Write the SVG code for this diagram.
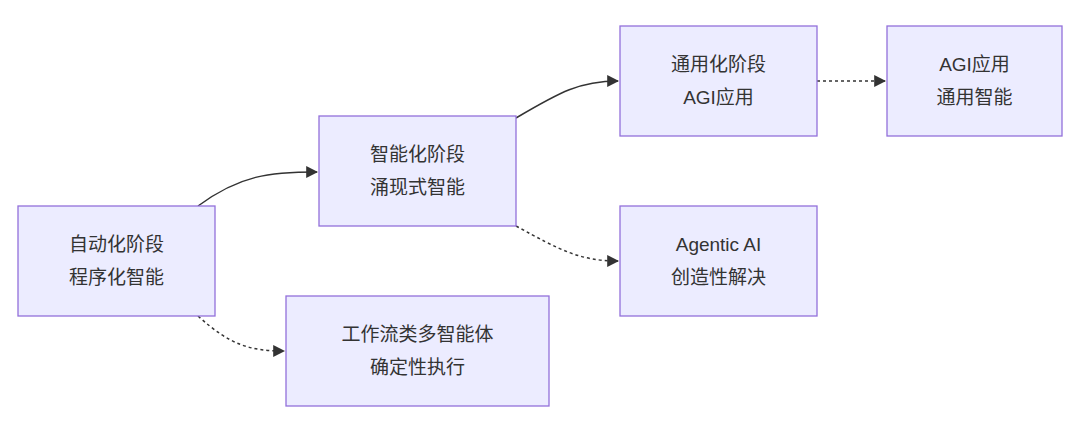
<svg xmlns="http://www.w3.org/2000/svg" width="1080" height="432" viewBox="0 0 1080 432">
<style>
.n rect{fill:#ECECFF;stroke:#9370DB;stroke-width:1.3}
.n text{font-family:"Liberation Sans","Noto Sans CJK SC",sans-serif;font-size:19px;fill:#333;text-anchor:middle}
.e path{fill:none;stroke:#333;stroke-width:1.5}
.d{stroke-dasharray:3 3}
</style>
<defs><marker id="a" viewBox="0 0 10 10" refX="9" refY="5" markerWidth="8" markerHeight="8" orient="auto"><path d="M0,0L10,5L0,10z" fill="#333"/></marker></defs>
<rect width="1080" height="432" fill="#fff"/>
<g class="e">
<path d="M198,206C240,175 270,172 317,172" marker-end="url(#a)"/>
<path class="d" d="M198,316C230,345 250,351 284,351" marker-end="url(#a)"/>
<path d="M516,118C560,92 580,81 618,81" marker-end="url(#a)"/>
<path class="d" d="M516,226C560,250 580,261 618,261" marker-end="url(#a)"/>
<path class="d" d="M817,81L885,81" marker-end="url(#a)"/>
</g>
<g id="A" class="n"><rect x="18" y="206" width="197" height="110"/><text x="116.5" y="251">自动化阶段</text><text x="116.5" y="284">程序化智能</text></g>
<g id="B" class="n"><rect x="319" y="116" width="197" height="110"/><text x="417.5" y="161">智能化阶段</text><text x="417.5" y="194">涌现式智能</text></g>
<g id="C" class="n"><rect x="286" y="296" width="263" height="110"/><text x="417.5" y="341">工作流类多智能体</text><text x="417.5" y="374">确定性执行</text></g>
<g id="D" class="n"><rect x="620" y="26" width="197" height="110"/><text x="718.5" y="71">通用化阶段</text><text x="718.5" y="104">AGI应用</text></g>
<g id="E" class="n"><rect x="620" y="206" width="197" height="110"/><text x="718.5" y="251">Agentic AI</text><text x="718.5" y="284">创造性解决</text></g>
<g id="F" class="n"><rect x="887" y="26" width="175" height="110"/><text x="974.5" y="71">AGI应用</text><text x="974.5" y="104">通用智能</text></g>
</svg>
